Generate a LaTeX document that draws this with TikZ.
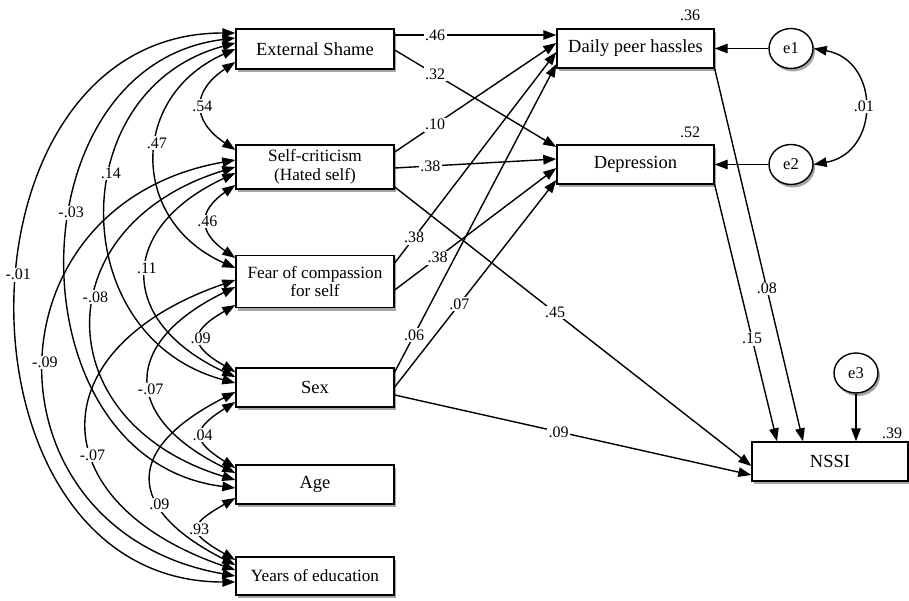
\documentclass[tikz,border=0pt]{standalone}
\usepackage{fontspec}
\setmainfont{Liberation Serif}
\usetikzlibrary{arrows.meta,shapes.geometric,shadows}
\tikzset{
  shad/.style={drop shadow={shadow xshift=2pt,shadow yshift=-3pt,fill=black!70,opacity=0.5}},
  box/.style={draw,line width=1.4pt,fill=white,minimum width=158pt,inner sep=0pt,align=center,
    font=\fontsize{18.5}{19.5}\selectfont,shad},
  smallbox/.style={box,font=\fontsize{17.2}{18.5}\selectfont},
  err/.style={draw,ellipse,line width=1.4pt,fill=white,minimum width=44pt,minimum height=40pt,inner sep=0pt,
    font=\fontsize{16.5}{17}\selectfont,shad},
  arr/.style={-{Triangle[length=13pt,width=9.5pt]},line width=1.4pt},
  cov/.style={{Triangle[length=13pt,width=9.5pt]}-{Triangle[length=13pt,width=9.5pt]},line width=1.4pt},
  lab/.style={fill=white,inner sep=1.5pt,font=\fontsize{16}{16}\selectfont},
  rsq/.style={inner sep=0pt,font=\fontsize{16}{16}\selectfont}
}
\begin{document}
\begin{tikzpicture}[x=1pt,y=1pt]
\useasboundingbox[fill=white] (0,0) rectangle (909,-601);
% exogenous boxes
\node[box,minimum height=40pt] (es) at (315,-49) {External Shame};
\node[smallbox,minimum height=44pt] (sc) at (315,-167) {Self-criticism\\(Hated self)};
\node[smallbox,minimum height=52pt] (fear) at (315,-281.5) {Fear of compassion\\for self};
\node[box,minimum height=39pt] (sex) at (315,-387.5) {Sex};
\node[box,minimum height=39pt] (age) at (315,-484.5) {Age};
\node[smallbox,minimum height=38pt] (yoe) at (315,-576) {Years of education};
% endogenous
\node[box,minimum width=157pt,minimum height=39pt] (dph) at (635.5,-48.5) {Daily peer hassles};
\node[box,minimum width=157pt,minimum height=39pt] (dep) at (635.5,-164.5) {Depression};
\node[box,minimum width=156pt,minimum height=39pt] (nssi) at (830,-461.5) {NSSI};
\node[err] (e1) at (791,-48.5) {e1};
\node[err] (e2) at (791,-164.5) {e2};
\node[err] (e3) at (856,-373) {e3};
% R squared
\node[rsq] (r1) at (690,-15) {.36};
\node[rsq] (r2) at (690,-132) {.52};
\node[rsq] (r3) at (892,-433) {.39};
% covariances among exogenous variables
\draw[cov] ([yshift=16pt]es.west) to[out=180,in=180,looseness=1.36] node[lab,pos=.46]{-.01} ([yshift=-6pt]yoe.west);
\draw[cov] ([yshift=11pt]es.west) to[out=187,in=173,looseness=1.29] node[lab,pos=.42]{-.03} ([yshift=-3.5pt]age.west);
\draw[cov] ([yshift=6pt]es.west) to[out=195,in=165,looseness=1.34] node[lab,pos=.41]{.14} ([yshift=4.5pt]sex.west);
\draw[cov] ([yshift=0pt]es.west) to[out=204,in=156,looseness=1.36] node[lab,pos=.44]{.47} ([yshift=13.5pt]fear.west);
\draw[cov] ([yshift=-13pt]es.west) to[out=214,in=146,looseness=1.54] node[lab,pos=.5]{.54} ([yshift=17pt]sc.west);
\draw[cov] ([yshift=-18pt]sc.west) to[out=215,in=145,looseness=1.6] node[lab,pos=.5]{.46} ([yshift=23.5pt]fear.west);
\draw[cov] ([yshift=-6pt]sc.west) to[out=205,in=155,looseness=1.64] node[lab,pos=.47]{.11} ([yshift=10.5pt]sex.west);
\draw[cov] ([yshift=0pt]sc.west) to[out=197,in=163,looseness=1.63] node[lab,pos=.43]{-.08} ([yshift=4.5pt]age.west);
\draw[cov] ([yshift=7pt]sc.west) to[out=190,in=170,looseness=1.59] node[lab,pos=.49]{-.09} ([yshift=0pt]yoe.west);
\draw[cov] ([yshift=-23.5pt]fear.west) to[out=210,in=150,looseness=2.05] node[lab,pos=.5]{.09} ([yshift=15.5pt]sex.west);
\draw[cov] ([yshift=-5.5pt]fear.west) to[out=206,in=154,looseness=1.75] node[lab,pos=.55]{-.07} ([yshift=11.5pt]age.west);
\draw[cov] ([yshift=1.5pt]fear.west) to[out=199,in=161,looseness=1.84] node[lab,pos=.59]{-.07} ([yshift=6pt]yoe.west);
\draw[cov] ([yshift=-14.5pt]sex.west) to[out=212,in=148,looseness=2.0] node[lab,pos=.5]{.04} ([yshift=16.5pt]age.west);
\draw[cov] ([yshift=-4.5pt]sex.west) to[out=207,in=153,looseness=1.85] node[lab,pos=.65]{.09} ([yshift=11pt]yoe.west);
\draw[cov] ([yshift=-13.5pt]age.west) to[out=210,in=150,looseness=2.3] node[lab,pos=.5]{.93} ([yshift=16pt]yoe.west);
% paths
\draw[arr] ([yshift=14pt]es.east) -- node[lab,pos=.25]{.46} ([yshift=13.5pt]dph.west);
\draw[arr] ([yshift=-1pt]es.east) -- node[lab,pos=.25]{.32} ([yshift=17.5pt]dep.west);
\draw[arr] ([yshift=15pt]sc.east) -- node[lab,pos=.25]{.10} ([yshift=5.5pt]dph.west);
\draw[arr] ([yshift=-1pt]sc.east) -- node[lab,pos=.22]{.38} ([yshift=5.5pt]dep.west);
\draw[arr] ([yshift=-20pt]sc.east) -- node[lab,pos=.45]{.45} ([yshift=-4.5pt]nssi.west);
\draw[arr] ([yshift=18.5pt]fear.east) -- node[lab,pos=.12]{.38} ([yshift=-3.5pt]dph.west);
\draw[arr] ([yshift=-8.5pt]fear.east) -- node[lab,pos=.265]{.38} ([yshift=-3.5pt]dep.west);
\draw[arr] ([yshift=15.5pt]sex.east) -- node[lab,pos=.12]{.06} ([yshift=-15.5pt]dph.west);
\draw[arr] ([yshift=0.5pt]sex.east) -- node[lab,pos=.4]{.07} ([yshift=-15.5pt]dep.west);
\draw[arr] ([yshift=-7.5pt]sex.east) -- node[lab,pos=.46]{.09} ([yshift=-13.5pt]nssi.west);
\draw[arr] (dph.south east) -- node[lab,pos=.59]{.08} ([xshift=-27pt]nssi.north);
\draw[arr] (dep.south east) -- node[lab,pos=.6]{.15} ([xshift=-53pt]nssi.north);
% error terms
\draw[arr] (e1.west) -- (dph.east);
\draw[arr] (e2.west) -- (dep.east);
\draw[arr] (e3.south) -- (e3 |- nssi.north);
\draw[cov] (e1.east) to[out=350,in=10,looseness=1.5] node[lab,pos=.5]{.01} (e2.east);
\end{tikzpicture}
\end{document}
